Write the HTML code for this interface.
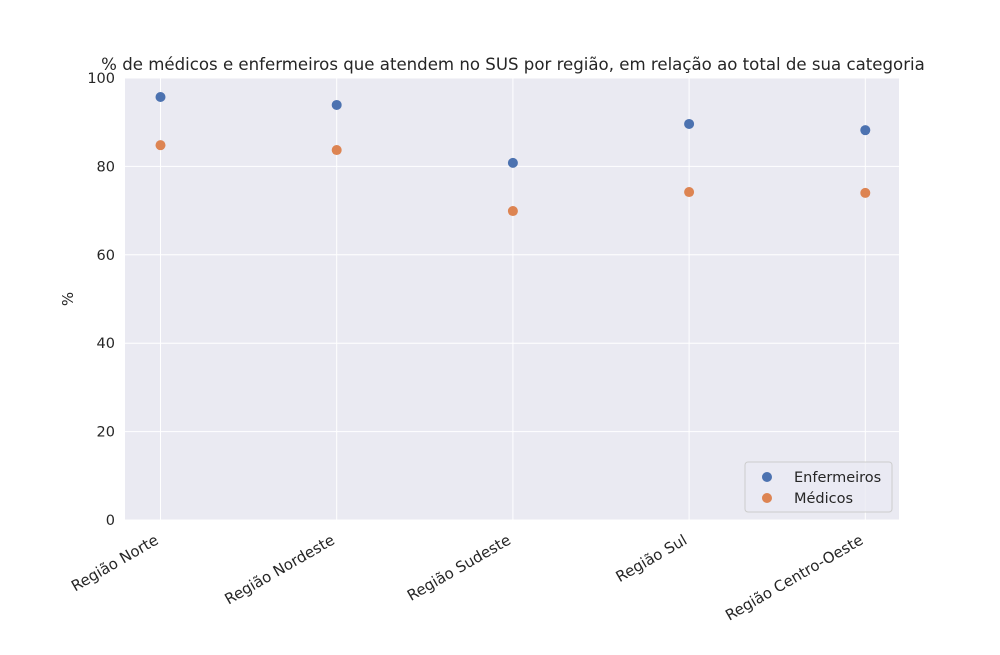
<!DOCTYPE html>
<html><head><meta charset="utf-8"><style>
body{margin:0;background:#fff;}
svg{font-family:"DejaVu Sans","Liberation Sans",sans-serif;}
</style></head><body>
<svg id="chart" width="1000" height="650">
<text x="513" y="70" text-anchor="middle" font-size="16.6" fill="#262626">% de médicos e enfermeiros que atendem no SUS por região, em relação ao total de sua categoria</text>
<rect x="125" y="78" width="774" height="442" fill="#eaeaf2"/>
<g id="grid"></g><g id="marks"></g><g id="labels"></g>
<text transform="translate(73,299) rotate(-90)" text-anchor="middle" font-size="15" fill="#262626">%</text>
<g>
<rect x="745" y="462" width="147" height="50" rx="3" fill="#eaeaf2" fill-opacity="0.8" stroke="#cccccc"/>
<circle cx="767" cy="477" r="5" fill="#4c72b0"/>
<text x="794" y="482" font-size="14.5" fill="#262626">Enfermeiros</text>
<circle cx="767" cy="498" r="5" fill="#dd8452"/>
<text x="794" y="503" font-size="14.5" fill="#262626">Médicos</text>
</g>
</svg>
<script>
const categories=["Região Norte","Região Nordeste","Região Sudeste","Região Sul","Região Centro-Oeste"];
const enfermeiros=[95.7,93.9,80.8,89.6,88.2];
const medicos=[84.8,83.7,69.9,74.2,74.0];
const yTicks=[0,20,40,60,80,100];
const NS="http://www.w3.org/2000/svg";
const x0=125,x1=899,y0=520,y1=78;
function xs(i){return 160.5+i*176.2;}
function ys(v){return y0-(v/100)*(y0-y1);}
function mk(t,a,p){const e=document.createElementNS(NS,t);for(const k in a)e.setAttribute(k,a[k]);p.appendChild(e);return e;}
const grid=document.getElementById('grid'),marks=document.getElementById('marks'),labels=document.getElementById('labels');
yTicks.forEach(v=>{
 const l=mk('line',{x1:x0,x2:x1,y1:ys(v),y2:ys(v),stroke:'#fff','stroke-width':1},grid);
 
 
 const t=mk('text',{x:x0-10,y:ys(v)+5,'text-anchor':'end','font-size':14.5,fill:'#262626'},labels);
 t.textContent=v;
 
 
});
categories.forEach((c,i)=>{
 const l=mk('line',{x1:xs(i),x2:xs(i),y1:y1,y2:y0,stroke:'#fff','stroke-width':1},grid);
 
 
 const t=mk('text',{transform:`translate(${xs(i)-1},${y0+23}) rotate(-30)`,'text-anchor':'end','font-size':15,fill:'#262626'},labels);
 t.textContent=c;
 
 
 const a=mk('circle',{cx:xs(i),cy:ys(enfermeiros[i]),r:5,fill:'#4c72b0'},marks);
 
 
 const b=mk('circle',{cx:xs(i),cy:ys(medicos[i]),r:5,fill:'#dd8452'},marks);
 
 
});
</script>
</body></html>
